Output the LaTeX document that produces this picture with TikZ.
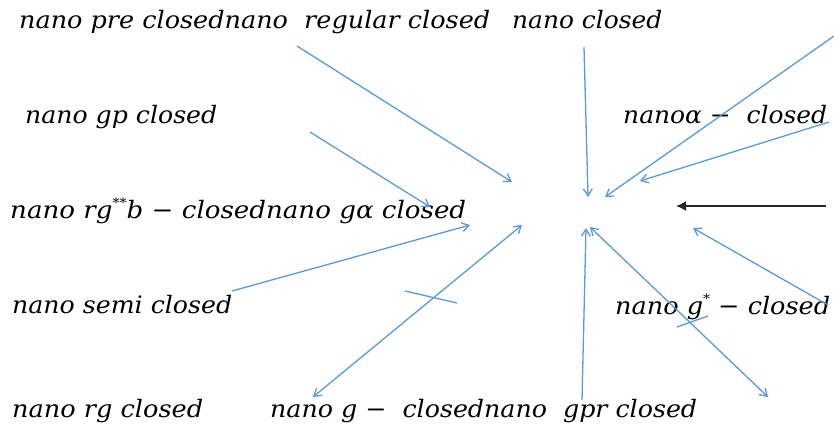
\documentclass[tikz,border=0pt]{standalone}
\usepackage{fontspec}
\usepackage{graphicx}
\setmainfont{DejaVu Serif}
\usetikzlibrary{arrows.meta}
\definecolor{linkblue}{RGB}{91,155,213}
\newcommand\fitw[2]{\resizebox{#1pt}{\height}{#2}}
\newcommand\supst[1]{\raisebox{0.42em}{\fontsize{13}{13}\selectfont #1}}
\begin{document}
\begin{tikzpicture}[x=1pt,y=-1pt,
  lbl/.style={anchor=base west, inner sep=0pt, font=\itshape\fontsize{24}{28}\selectfont},
  link/.style={draw=linkblue, line width=1.3pt},
  tipto/.style={link, -{Straight Barb[length=7pt,width=9pt]}},
  tipboth/.style={link, {Straight Barb[length=7pt,width=9pt]}-{Straight Barb[length=7pt,width=9pt]}},
  blackarrow/.style={draw=black!85, line width=1.5pt, -{Latex[length=10pt,width=10pt]}}
]
\useasboundingbox (0,0) rectangle (834,426);
% labels
\node[lbl] (t1) at (19,28) {\fitw{471}{nano pre closednano~~regular closed}};
\node[lbl] (t2) at (512,28) {\fitw{150}{nano closed}};
\node[lbl] (t3) at (25,123) {\fitw{192}{nano gp closed}};
\node[lbl] (t4) at (623,123) {\fitw{204}{nanoα −~~closed}};
\node[lbl] (t5) at (10,218) {\fitw{456}{nano rg\supst{**}b − closednano gα closed}};
\node[lbl] (t6) at (12,313) {\fitw{220}{nano semi closed}};
\node[lbl] (t7) at (615,314) {\fitw{215}{nano g\supst{*} − closed}};
\node[lbl] (t8) at (12,417) {\fitw{191}{nano rg closed}};
\node[lbl] (t9) at (270,417) {\fitw{427}{nano g −~~closednano~~gpr closed}};
% coordinates
\coordinate (a1) at (297,46);  \coordinate (b1) at (512,182);
\coordinate (a2) at (584,47);  \coordinate (b2) at (588,197);
\coordinate (a3) at (834,36);  \coordinate (b3) at (605,197);
\coordinate (a4) at (829,122); \coordinate (b4) at (640,181);
\coordinate (a5) at (310,132); \coordinate (b5) at (430,207);
\coordinate (a6) at (232,291); \coordinate (b6) at (470,225);
\coordinate (a7) at (405,291); \coordinate (b7) at (457,303);
\coordinate (a8) at (522,225); \coordinate (b8) at (313,397);
\coordinate (a9) at (582,400); \coordinate (b9) at (586,228);
\coordinate (a10) at (590,227); \coordinate (b10) at (768,397);
\coordinate (a11) at (828,305); \coordinate (b11) at (693,228);
\coordinate (a12) at (677,327); \coordinate (b12) at (708,316);
\coordinate (a13) at (826,206); \coordinate (b13) at (676,206);
% connectors
\draw[tipto] (a1) -- (b1);
\draw[tipto] (a2) -- (b2);
\draw[tipto] (a3) -- (b3);
\draw[tipto] (a4) -- (b4);
\draw[tipto] (a5) -- (b5);
\draw[tipto] (a6) -- (b6);
\draw[link] (a7) -- (b7);
\draw[tipboth] (a8) -- (b8);
\draw[tipto] (a9) -- (b9);
\draw[tipboth] (a10) -- (b10);
\draw[tipto] (a11) -- (b11);
\draw[link] (a12) -- (b12);
\draw[blackarrow] (a13) -- (b13);
\end{tikzpicture}
\end{document}
